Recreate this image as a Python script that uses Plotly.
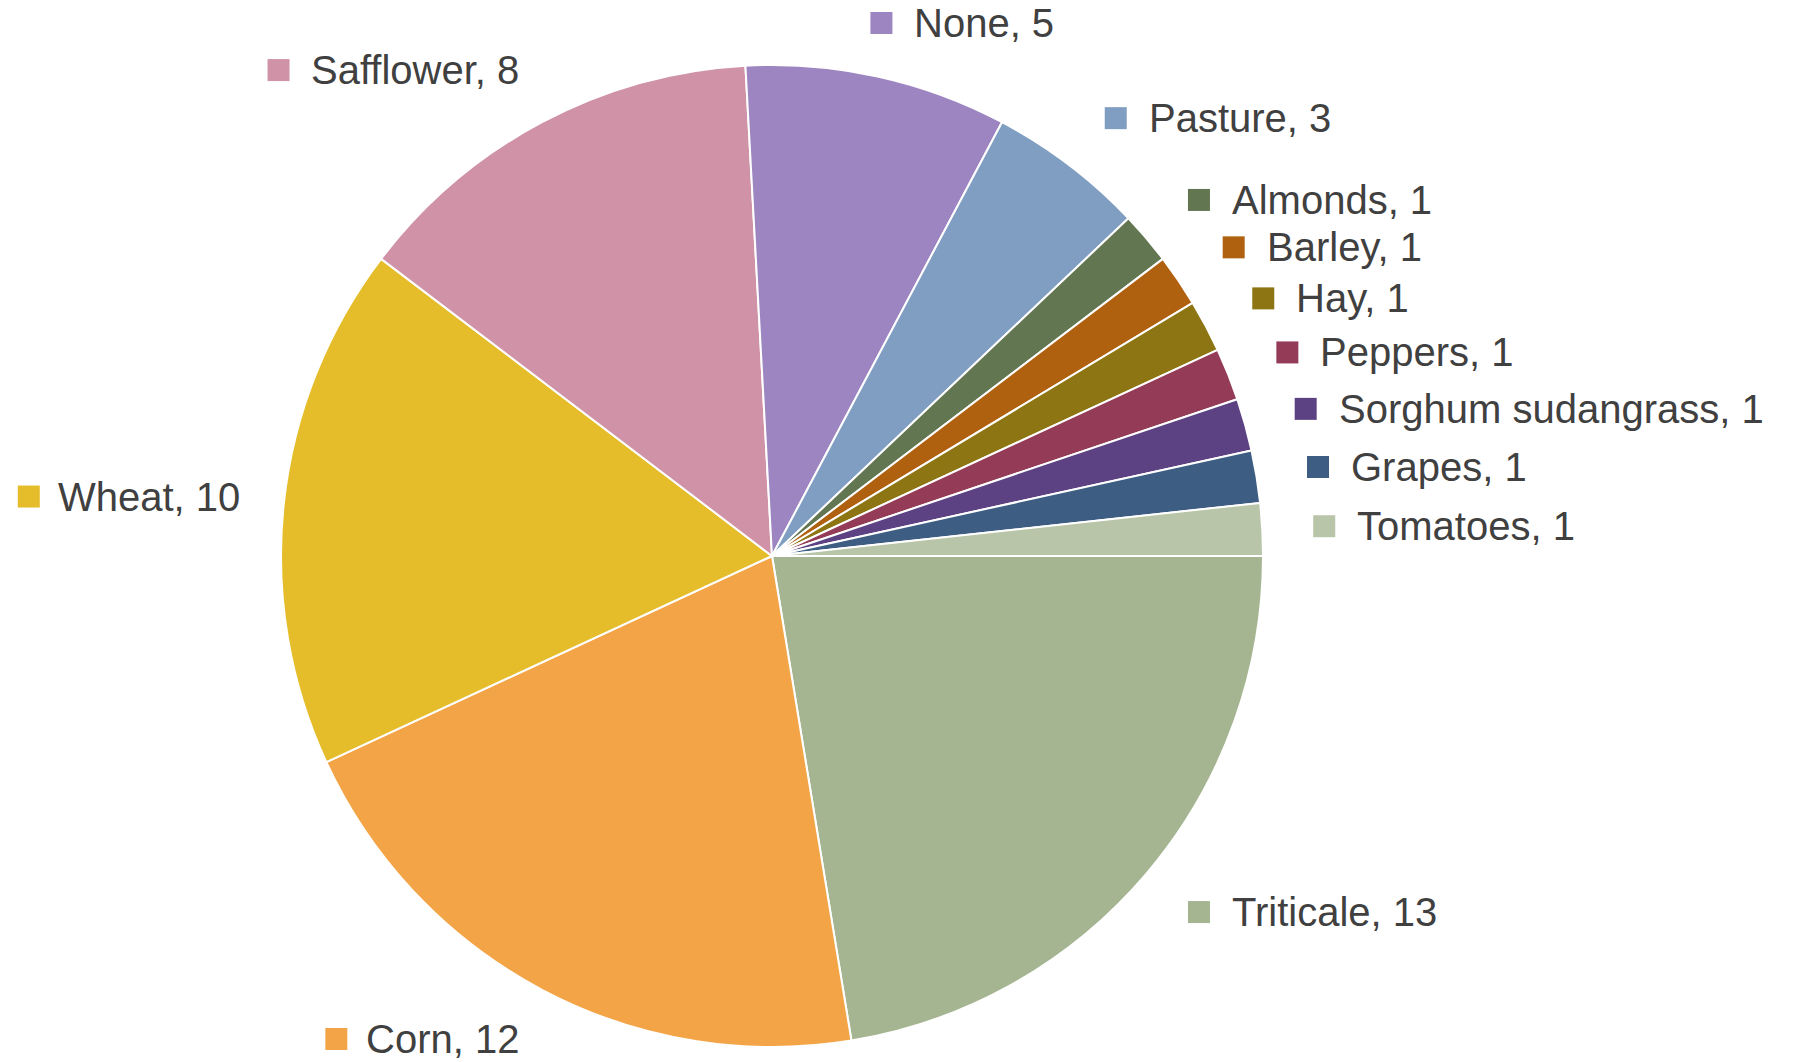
import math
import plotly.graph_objects as go

# ---------------- data ----------------
labels = ["Triticale", "Corn", "Wheat", "Safflower", "None", "Pasture", "Almonds",
          "Barley", "Hay", "Peppers", "Sorghum sudangrass", "Grapes", "Tomatoes"]
values = [13, 12, 10, 8, 5, 3, 1, 1, 1, 1, 1, 1, 1]
colors = ["#A5B592", "#F3A447", "#E5BD2A", "#D092A7", "#9C85C0", "#809EC2", "#637652",
          "#B0610F", "#8C7512", "#943B57", "#5C4283", "#3D5E82", "#B8C5A8"]

# ---------------- layout constants ----------------
W, H = 1793, 1062
CX, CY, R = 772, 556, 491          # pie centre / radius in pixels
GAP = 39                           # distance of label anchor outside the pie
FONT = 40
SQ = 22                            # legend-key square size
TEXT_GAP = 31                      # square centre -> text start
PAD_R = 12
PAD_L = 3
LINE_H = 40
EDGE = 23                          # keep label centres this far from top/bottom
BLEND = 0.3                        # |cos| below which labels slide toward centred
TEXT_COLOR = "#404040"

# Liberation Sans (Arial metric) advance widths, 1/1000 em
WIDTHS = {" ": 278, ",": 278, "A": 667, "B": 667, "C": 722, "G": 778, "H": 722, "N": 722,
          "P": 667, "S": 667, "T": 611, "W": 944, "a": 556, "c": 500, "d": 556, "e": 556,
          "f": 278, "g": 556, "h": 556, "i": 222, "l": 222, "m": 833, "n": 556, "o": 556,
          "p": 556, "r": 333, "s": 500, "t": 278, "u": 556, "w": 722, "y": 500}


def text_width(s):
    return sum(WIDTHS.get(ch, 556) for ch in s) * FONT / 1000.0


fig = go.Figure()
fig.add_trace(go.Pie(
    labels=labels, values=values, sort=False, direction="clockwise", rotation=90,
    marker=dict(colors=colors, line=dict(color="white", width=2)),
    textinfo="none", showlegend=False, hoverinfo="label+value",
    domain=dict(x=[(CX - R) / W, (CX + R) / W], y=[1 - (CY + R) / H, 1 - (CY - R) / H]),
))

total = sum(values)
cum = 0
sq_x, sq_y = [], []
annotations = []
for lab, val, col in zip(labels, values, colors):
    theta = 2 * math.pi * (cum + val / 2) / total
    cum += val
    c, s = math.cos(theta), math.sin(theta)
    px = CX + (R + GAP) * c
    py = CY + (R + GAP) * s
    yc = py + s * LINE_H / 2
    yc = min(max(yc, EDGE), H - EDGE)
    txt = f"{lab}, {val}"
    tw = text_width(txt)
    f = max(-1.0, min(1.0, c / BLEND))
    if c >= 0:
        box_w = PAD_R + SQ / 2 + TEXT_GAP + tw
        left = px - box_w / 2 * (1 - f)
        sx = left + PAD_R + SQ / 2
        tx = sx + TEXT_GAP
        anchor = "left"
    else:
        box_w = PAD_L + tw + TEXT_GAP + SQ / 2
        right = px + box_w / 2 * (1 + f)
        tx = right - PAD_L
        sx = tx - tw - TEXT_GAP
        anchor = "right"
    sq_x.append(sx)
    sq_y.append(yc)
    annotations.append(dict(x=tx, y=yc, xref="x", yref="y", text=txt,
                            showarrow=False, xanchor=anchor, yanchor="middle",
                            font=dict(family="Liberation Sans", size=FONT, color=TEXT_COLOR)))

fig.add_trace(go.Scatter(
    x=sq_x, y=sq_y, mode="markers", hoverinfo="skip", showlegend=False,
    marker=dict(symbol="square", size=SQ, color=colors, line=dict(width=0)),
))

fig.update_layout(
    width=W, height=H, margin=dict(l=0, r=0, t=0, b=0),
    paper_bgcolor="white", plot_bgcolor="rgba(0,0,0,0)",
    xaxis=dict(range=[0, W], visible=False, domain=[0, 1], fixedrange=True),
    yaxis=dict(range=[H, 0], visible=False, domain=[0, 1], fixedrange=True),
    annotations=annotations,
)

fig.write_html("out.html")
